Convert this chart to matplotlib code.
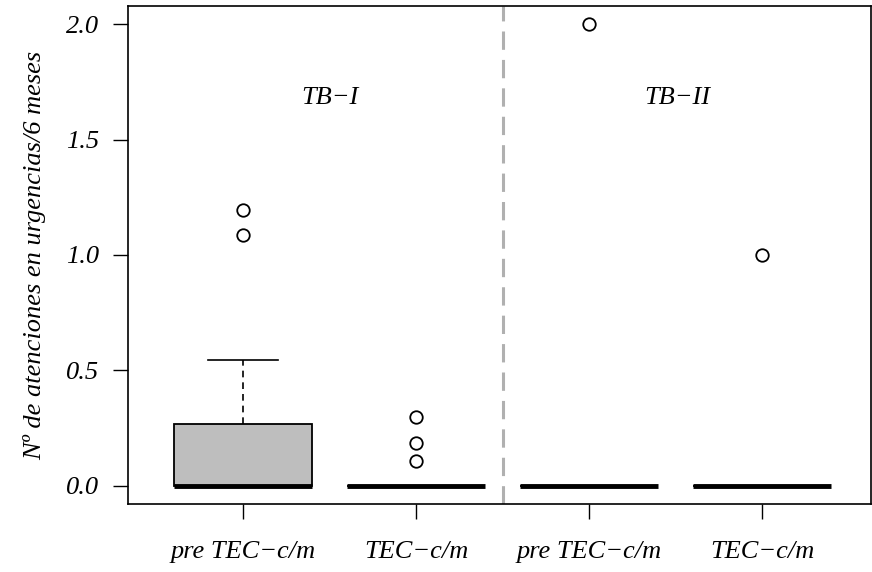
import matplotlib.pyplot as plt

# box statistics (R-style boxplot)
labels = ['pre TEC\u2212c/m', 'TEC\u2212c/m', 'pre TEC\u2212c/m', 'TEC\u2212c/m']
q1 = [0.0, 0.0, 0.0, 0.0]
med = [0.0, 0.0, 0.0, 0.0]
q3 = [0.265, 0.0, 0.0, 0.0]
whislo = [0.0, 0.0, 0.0, 0.0]
whishi = [0.543, 0.0, 0.0, 0.0]
fliers = [[1.088, 1.197], [0.106, 0.184, 0.297], [2.0], [1.0]]
groups = ['TB\u2212I', 'TB\u2212II']

plt.rcParams['font.family'] = ['Liberation Serif', 'DejaVu Serif']
plt.rcParams['font.style'] = 'italic'

fig = plt.figure(figsize=(8.72, 5.72), dpi=100)
ax = fig.add_axes([0.1468, 0.1189, 0.8521, 0.8706])

stats = []
for i in range(len(labels)):
    stats.append({'q1': q1[i], 'med': med[i], 'q3': q3[i],
                  'whislo': whislo[i], 'whishi': whishi[i],
                  'fliers': fliers[i], 'label': labels[i]})

pos = [1, 2, 3, 4]
ax.bxp(stats, positions=pos, widths=0.8, patch_artist=True,
       boxprops=dict(facecolor='#bebebe', edgecolor='black', linewidth=1.3),
       medianprops=dict(color='black', linewidth=3.5, solid_capstyle='butt'),
       whiskerprops=dict(color='black', linewidth=1.2, linestyle=(0, (4, 3))),
       capprops=dict(color='black', linewidth=1.2),
       capwidths=0.4,
       flierprops=dict(marker='o', markersize=9, markerfacecolor='none',
                       markeredgecolor='black', markeredgewidth=1.3))

ax.axvline(2.5, color='#b0b0b0', linewidth=2.2, linestyle=(0, (6, 3.3)))

ax.text(1.50, 1.68, groups[0], ha='center', va='center', fontsize=19)
ax.text(3.51, 1.68, groups[1], ha='center', va='center', fontsize=19)

ax.set_xlim(0.335, 4.63)
ax.set_ylim(-0.08, 2.08)
ax.set_yticks([0.0, 0.5, 1.0, 1.5, 2.0])
ax.set_yticklabels(['0.0', '0.5', '1.0', '1.5', '2.0'])
ax.set_xticks(pos)
ax.set_xticklabels(labels)
ax.tick_params(axis='both', labelsize=19, length=11, width=1, direction='out')
ax.tick_params(axis='x', pad=16)
ax.tick_params(axis='y', pad=10)
ax.set_ylabel('N\u00ba de atenciones en urgencias/6 meses', fontsize=19, labelpad=14)

for s in ax.spines.values():
    s.set_linewidth(1.2)

fig.savefig('out.png', dpi=100)
